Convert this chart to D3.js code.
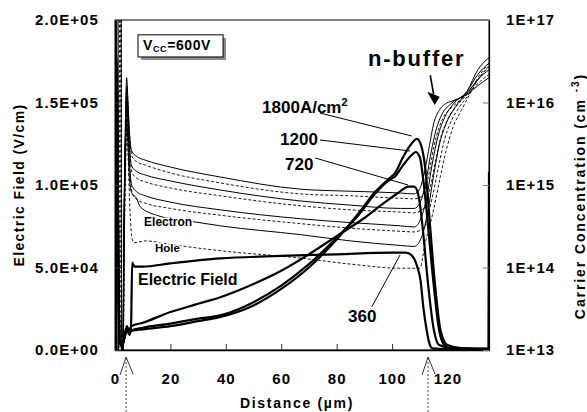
<!DOCTYPE html>
<html>
<head>
<meta charset="utf-8">
<script src="https://d3js.org/d3.v7.min.js"></script>
<style>
  body { margin: 0; background: #fff; }
  text { font-family: "Liberation Sans", Arial, sans-serif; font-weight: bold; fill: #000; }
</style>
</head>
<body>
<script>
// screen size and plot box
var w = 587;
var h = 412;
var plotL = 115, plotR = 489, plotT = 20, plotB = 350;

// axis ticks
var distTicks = [0, 20, 40, 60, 80, 100, 120];
var fieldTicks = [0, 5e4, 1e5, 1.5e5, 2e5];
var concTicks = [1e13, 1e14, 1e15, 1e16, 1e17];

// current densities (A/cm2)
var currents = ["1800", "1200", "720", "360"];

// electric field [distance um, V/cm]
var field1800 = [[0,0],[0.3,1.8e5],[0.7,1.7e5],[1.2,0.6e5],[1.7,4e3],[2.7,3e3],[3.5,8e3],[4.3,1.3e4],[5,1.0e4],[6,1.15e4],[10,1.25e4],[20,1.45e4],[30,1.75e4],[38,2.0e4],[50,2.7e4],[60,3.7e4],[70,5.0e4],[80,6.7e4],[88,8.3e4],[94,9.6e4],[99,1.04e5],[101,1.07e5],[104,1.17e5],[107,1.25e5],[109,1.28e5],[110.5,1.24e5],[112,1.1e5],[113.5,0.8e5],[115.5,0.4e5],[117.5,1.2e4],[120,3e3],[125,1.2e3],[134.8,800],[135,1.08e5]];
var field1200 = [[0,0],[0.3,1.78e5],[0.7,1.6e5],[1.2,0.55e5],[1.7,4e3],[2.7,3e3],[3.5,8.5e3],[4.3,1.35e4],[5,1.05e4],[6,1.2e4],[10,1.35e4],[20,1.6e4],[30,1.9e4],[38,2.1e4],[50,2.9e4],[60,3.9e4],[70,5.2e4],[80,6.8e4],[88,8.2e4],[94,9.5e4],[99,1.03e5],[101,1.05e5],[104,1.12e5],[107,1.18e5],[108.5,1.2e5],[110,1.17e5],[111.5,1.0e5],[113,0.75e5],[115,0.4e5],[117,1.2e4],[119,3e3],[124,1e3],[135,700]];
var field720 = [[0,0],[0.3,1.75e5],[0.7,1.55e5],[1.2,0.5e5],[1.7,4e3],[2.7,3e3],[3.5,9e3],[4.3,1.45e4],[5,1.2e4],[6,1.45e4],[10,1.65e4],[20,2.3e4],[30,2.8e4],[38,3.2e4],[50,4.0e4],[60,4.8e4],[70,5.8e4],[80,6.9e4],[90,8.0e4],[97,8.9e4],[102,9.5e4],[106,9.9e4],[108,9.9e4],[109.5,9.4e4],[111,7.5e4],[113,4e4],[115,1.3e4],[117,3e3],[122,1e3],[135,600]];
var field360 = [[0,0],[0.3,1.72e5],[0.7,1.5e5],[1.2,0.5e5],[1.7,4e3],[2.8,4e3],[3.6,9e3],[4.5,1.2e4],[5.3,9e3],[5.8,1.5e4],[6.2,5.3e4],[7,5.05e4],[10,5.05e4],[20,5.25e4],[38,5.55e4],[60,5.7e4],[80,5.8e4],[100,5.9e4],[105,5.9e4],[107,5.75e4],[109,5.1e4],[110.3,4.2e4],[111.3,2.6e4],[112.5,1.2e4],[113.5,4e3],[114.5,1e3],[120,600],[135,500]];

// electron concentration [distance um, cm-3]
var electron1800 = [[0,5e17],[0.4,3e17],[0.6,5e12],[2.7,5e12],[3.3,6e14],[3.8,7e15],[4.2,2.0e16],[4.6,1.2e16],[5.2,4.5e15],[6.0,2.6e15],[8,2.2e15],[11,2.0e15],[20,1.65e15],[38,1.25e15],[67,8.9e14],[85,8.4e14],[103,8.0e14],[108,7.8e14],[110,9e14],[112,1.6e15],[113.5,3e15],[115,5.5e15],[117,8e15],[119,9.5e15],[122,1.05e16],[127,1.25e16],[131,1.6e16],[135,2.0e16]];
var electron1200 = [[0,5e17],[0.6,3e17],[0.8,5e12],[2.7,5e12],[3.3,5e14],[3.8,5e15],[4.2,1.5e16],[4.6,9e15],[5.2,3.2e15],[6.0,1.7e15],[8,1.45e15],[11,1.32e15],[20,1.12e15],[38,8.7e14],[67,6.4e14],[85,5.7e14],[103,5.2e14],[108,5.2e14],[110,6e14],[112,1.0e15],[114,2.4e15],[116,4.8e15],[118,7.2e15],[121,9.5e15],[127,1.3e16],[131,1.9e16],[135,2.5e16]];
var electron720 = [[0,5e17],[1.1,3e17],[1.3,5e12],[2.7,5e12],[3.3,4e14],[3.8,4e15],[4.2,1.0e16],[4.6,6e15],[5.2,2e15],[6.0,1.0e15],[8,8.2e14],[11,7.4e14],[20,6.2e14],[38,5.0e14],[67,3.9e14],[85,3.5e14],[103,3.2e14],[108,3.1e14],[110.5,4e14],[112.5,7e14],[114.5,1.8e15],[116.5,3.8e15],[119,6.6e15],[122,9.5e15],[127,1.35e16],[131,2.2e16],[135,3.0e16]];
var electron360 = [[0,5e17],[2.2,3e17],[2.4,5e12],[2.9,5e12],[3.3,3e14],[3.8,2.5e15],[4.2,6e15],[4.6,3.5e15],[5.2,1.2e15],[6.0,8e14],[7.8,6.9e14],[9,5.5e14],[15,4.3e14],[28,3.6e14],[38,3.2e14],[67,2.5e14],[85,2.1e14],[103,1.85e14],[108,1.8e14],[111,2.5e14],[113,5e14],[115,1.3e15],[117,3.0e15],[119.5,5.5e15],[123,9e15],[127,1.35e16],[131,2.5e16],[135,3.5e16]];

// hole concentration [distance um, cm-3]
var hole1800 = [[0,4e17],[0.5,2e17],[0.7,5e12],[2.8,5e12],[3.4,5e14],[3.9,6e15],[4.3,1.6e16],[4.7,9e15],[5.3,3.8e15],[6.2,2.2e15],[8,1.9e15],[11,1.74e15],[20,1.4e15],[38,1.06e15],[67,7.8e14],[85,7.4e14],[103,6.9e14],[108,6.8e14],[110,7e14],[113,1.2e15],[115,2.8e15],[117,5e15],[119,7e15],[122,9e15],[127,1.25e16],[131,1.7e16],[135,2.2e16]];
var hole1200 = [[0,4e17],[1.6,2e17],[1.8,5e12],[2.8,5e12],[3.4,4e14],[3.9,4e15],[4.3,1.2e16],[4.7,7e15],[5.3,2.5e15],[6.2,1.4e15],[8,1.2e15],[11,1.09e15],[20,9.2e14],[38,7.4e14],[67,5.6e14],[85,5.0e14],[103,4.7e14],[108,4.6e14],[111,5e14],[114,1e15],[116,2.2e15],[118,4.2e15],[120,6.2e15],[123,8.8e15],[127,1.25e16],[131,1.9e16],[135,2.7e16]];
var hole720 = [[0,4e17],[2.0,2e17],[2.2,5e12],[2.8,5e12],[3.4,3e14],[3.9,3e15],[4.3,8e15],[4.7,4.5e15],[5.3,1.6e15],[6.2,8e14],[8,6.6e14],[11,6.0e14],[20,5.2e14],[38,4.3e14],[67,3.4e14],[85,3.0e14],[103,2.75e14],[108,2.7e14],[111.5,3e14],[114.5,7e14],[117,1.8e15],[119,3.6e15],[121,5.6e15],[124,8.5e15],[128,1.3e16],[131,2e16],[135,3e16]];
var hole360 = [[0,4e17],[2.3,2e17],[2.5,5e12],[2.9,5e12],[3.4,2.5e14],[3.9,2e15],[4.3,5e15],[4.7,2.5e15],[5.3,6e14],[6.2,2.2e14],[7,2.0e14],[11,2.1e14],[20,1.9e14],[38,1.6e14],[67,1.3e14],[85,1.1e14],[103,9.8e13],[110,9.8e13],[112,2e14],[115,5e14],[117.5,1.3e15],[120,3e15],[122,5e15],[125,8e15],[128,1.25e16],[131.5,2.0e16],[135,2.8e16]];

var fields = [field1800, field1200, field720, field360];
var electrons = [electron1800, electron1200, electron720, electron360];
var holes = [hole1800, hole1200, hole720, hole360];

var svg = d3.select("body").append("svg")
  .attr("width", w)
  .attr("height", h);

var x = d3.scaleLinear().domain([0, 135]).range([plotL, plotR]);
var yE = d3.scaleLinear().domain([0, 2e5]).range([plotB, plotT]);
var yC = d3.scaleLog().domain([1e13, 1e17]).range([plotB, plotT]);

svg.append("clipPath").attr("id", "plot")
  .append("rect")
  .attr("x", plotL).attr("y", plotT)
  .attr("width", plotR - plotL).attr("height", plotB - plotT);

var plot = svg.append("g").attr("clip-path", "url(#plot)");

var lineE = d3.line()
  .x(function(d) { return x(d[0]); })
  .y(function(d) { return yE(d[1]); })
  .curve(d3.curveMonotoneX);
var lineC = d3.line()
  .x(function(d) { return x(d[0]); })
  .y(function(d) { return yC(d[1]); })
  .curve(d3.curveMonotoneX);

// carriers: electrons solid, holes dashed
plot.selectAll(".hole").data(holes).enter()
  .append("path").attr("class", "hole")
  .attr("d", lineC)
  .attr("fill", "none").attr("stroke", "#000")
  .attr("stroke-width", 0.9).attr("stroke-dasharray", "3,2");
plot.selectAll(".electron").data(electrons).enter()
  .append("path").attr("class", "electron")
  .attr("d", lineC)
  .attr("fill", "none").attr("stroke", "#000")
  .attr("stroke-width", 1);

// electric field, thick
plot.selectAll(".field").data(fields).enter()
  .append("path").attr("class", "field")
  .attr("d", lineE)
  .attr("fill", "none").attr("stroke", "#000")
  .attr("stroke-width", 2.2).attr("stroke-linejoin", "round");

// frame
svg.append("rect")
  .attr("x", plotL).attr("y", plotT)
  .attr("width", plotR - plotL).attr("height", plotB - plotT)
  .attr("fill", "none").attr("stroke", "#000").attr("stroke-width", 1);

// axes
var fmtE = function(d) {
  if (d === 0) return "0.0E+00";
  var e = Math.floor(Math.log10(d) + 1e-9);
  var m = d / Math.pow(10, e);
  return m.toFixed(1) + "E+" + (e < 10 ? "0" : "") + e;
};

var xAxis = svg.append("g")
  .attr("transform", "translate(0," + plotB + ")")
  .call(d3.axisBottom(x).tickValues(distTicks).tickSize(-6).tickSizeOuter(0).tickPadding(23).tickFormat(d3.format("d")));
var yAxisL = svg.append("g")
  .attr("transform", "translate(" + plotL + ",0)")
  .call(d3.axisLeft(yE).tickValues(fieldTicks).tickSize(-6).tickSizeOuter(0).tickPadding(16).tickFormat(fmtE));
var yAxisR = svg.append("g")
  .attr("transform", "translate(" + plotR + ",0)")
  .call(d3.axisRight(yC).tickValues(concTicks).tickSize(-6).tickSizeOuter(0).tickPadding(17)
    .tickFormat(function(d) { return "1E+" + Math.round(Math.log10(d)); }));

[xAxis, yAxisL, yAxisR].forEach(function(a) {
  a.selectAll("text")
    .style("font-family", "Liberation Sans, Arial, sans-serif")
    .style("font-weight", "bold")
    .style("font-size", "15px")
    .style("letter-spacing", "1.1px")
    .attr("fill", "#000");
  a.selectAll(".tick line").attr("stroke", "#333");
});
xAxis.select(".domain").attr("stroke-width", 1.6);
yAxisR.select(".domain").attr("stroke-width", 1.2);
yAxisR.selectAll(".tick line").attr("stroke", "#777");

// axis titles
svg.append("text")
  .attr("transform", "translate(" + ((plotL + plotR) / 2 - 5) + ",408)")
  .attr("text-anchor", "middle")
  .style("font-size", "14px").style("letter-spacing", "1.7px")
  .text("Distance (\u00b5m)");

svg.append("text")
  .attr("transform", "translate(24," + ((plotT + plotB) / 2) + ") rotate(-90)")
  .attr("text-anchor", "middle")
  .style("font-size", "14px").style("letter-spacing", "1.4px")
  .text("Electric Field (V/cm)");

var rt = svg.append("text")
  .attr("transform", "translate(585," + ((plotT + plotB) / 2 + 11) + ") rotate(-90)")
  .attr("text-anchor", "middle")
  .style("font-size", "14px").style("letter-spacing", "1.9px");
rt.append("tspan").text("Carrier Concentration (cm");
rt.append("tspan").attr("dx", 6).attr("dy", -6).style("font-size", "10px").text("-3");
rt.append("tspan").attr("dy", 6).text(")");

// Vcc box
var boxX0 = x(8.3), boxX1 = x(39), boxY0 = yE(1.91e5), boxY1 = yE(1.776e5);
svg.append("rect")
  .attr("x", boxX0 + 3).attr("y", boxY0 + 3)
  .attr("width", boxX1 - boxX0).attr("height", boxY1 - boxY0)
  .attr("fill", "#8a8a8a");
svg.append("rect")
  .attr("x", boxX0).attr("y", boxY0)
  .attr("width", boxX1 - boxX0).attr("height", boxY1 - boxY0)
  .attr("fill", "#fff").attr("stroke", "#000").attr("stroke-width", 1);
var vt = svg.append("text")
  .attr("x", boxX0 + 5).attr("y", boxY1 - 7)
  .style("font-size", "14px").style("letter-spacing", "0.6px");
vt.append("tspan").text("V");
vt.append("tspan").attr("dy", 2).style("font-size", "9px").text("CC");
vt.append("tspan").attr("dy", -2).text("=600V");

// current labels with leader lines, in data units
var notes = [
  {t: "1800A/cm", sup: "2", tx: 53.1, ty: 1.436e5, from: [74.0, 1.436e5], to: [107.1, 1.297e5]},
  {t: "1200", tx: 59.6, ty: 1.242e5, from: [74.0, 1.273e5], to: [106.5, 1.206e5]},
  {t: "720", tx: 61.4, ty: 1.091e5, from: [72.2, 1.164e5], to: [105.8, 1.0e5]},
  {t: "360", tx: 84.1, ty: 1.70e4, from: [92.7, 2.62e4], to: [102.9, 5.76e4]}
];
notes.forEach(function(n) {
  svg.append("line")
    .attr("x1", x(n.from[0])).attr("y1", yE(n.from[1]))
    .attr("x2", x(n.to[0])).attr("y2", yE(n.to[1]))
    .attr("stroke", "#000").attr("stroke-width", 1);
  var t = svg.append("text")
    .attr("x", x(n.tx)).attr("y", yE(n.ty))
    .style("font-size", "17px");
  t.append("tspan").text(n.t);
  if (n.sup) t.append("tspan").attr("dy", -7).style("font-size", "11px").text(n.sup);
});

// curve labels
svg.append("text")
  .attr("x", x(8.3)).attr("y", yE(3.94e4))
  .style("font-size", "16px")
  .text("Electric Field");
svg.append("text")
  .attr("x", x(10.5)).attr("y", yE(7.52e4))
  .style("font-size", "12px")
  .attr("stroke", "#fff").attr("stroke-width", 3).attr("paint-order", "stroke")
  .text("Electron");
svg.append("text")
  .attr("x", x(14.4)).attr("y", yE(5.94e4))
  .style("font-size", "11.5px")
  .attr("stroke", "#fff").attr("stroke-width", 3).attr("paint-order", "stroke")
  .text("Hole");

// n-buffer label and arrow
svg.append("text")
  .attr("x", x(91.3)).attr("y", yE(1.721e5))
  .style("font-size", "22px").style("letter-spacing", "1.8px")
  .text("n-buffer");
svg.append("line")
  .attr("x1", x(113.8)).attr("y1", yE(1.666e5))
  .attr("x2", x(115.0)).attr("y2", yE(1.550e5))
  .attr("stroke", "#000").attr("stroke-width", 1.6);
svg.append("path")
  .attr("d", "M" + x(112.7) + "," + yE(1.565e5) + "L" + x(117.2) + "," + yE(1.535e5) + "L" + x(115.4) + "," + yE(1.485e5) + "Z")
  .attr("fill", "#000");

// junction markers below axis
var marks = [4, 113];
marks.forEach(function(m) {
  var cx = x(m);
  svg.append("line")
    .attr("x1", cx).attr("y1", plotB + 8).attr("x2", cx).attr("y2", h)
    .attr("stroke", "#444").attr("stroke-width", 1).attr("stroke-dasharray", "2,2");
  svg.append("path")
    .attr("d", "M" + (cx - 6) + "," + (plotB + 25) + "L" + cx + "," + (plotB + 7) + "L" + (cx + 7) + "," + (plotB + 24))
    .attr("fill", "none").attr("stroke", "#222").attr("stroke-width", 0.9);
});
</script>
</body>
</html>
